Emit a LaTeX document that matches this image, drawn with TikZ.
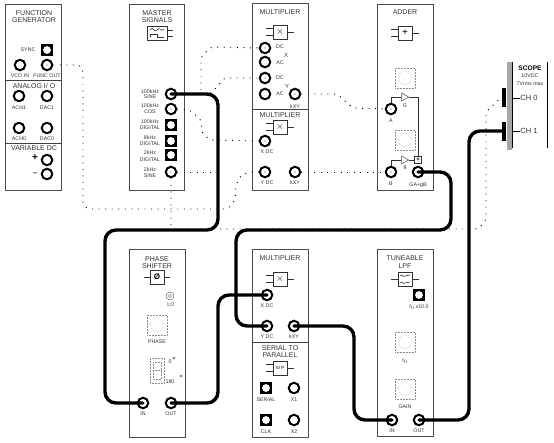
\documentclass[tikz,border=0pt]{standalone}
\usepackage{fontspec}
\usetikzlibrary{shapes.geometric}
\setmainfont{Liberation Sans}
\begin{document}
\begin{tikzpicture}[x=1pt,y=-1pt,
  panel/.style={draw=black!70,line width=0.7pt},
  divider/.style={draw=black!75,line width=0.7pt},
  sock/.style={circle,draw=black,line width=2pt,fill=white,minimum size=10.5pt,inner sep=0pt},
  bnc/.style={sock,path picture={\fill[black!70] (path picture bounding box.center) circle (0.6pt);}},
  sqsock/.style={rectangle,fill=black,minimum size=12.5pt,inner sep=0pt,path picture={\fill[white] (path picture bounding box.center) circle (3.9pt);}},
  wire/.style={line width=3.4pt,rounded corners=11pt,line cap=round},
  dots/.style={line width=0.95pt,dash pattern=on 0.95pt off 5.6pt,rounded corners=3pt},
  sym/.style={rectangle,draw=black!80,line width=0.6pt,fill=white,minimum size=14pt,inner sep=0pt,font=\fontsize{10}{10}\selectfont},
  stub/.style={draw=black!80,line width=0.6pt},
  knob/.style={rectangle,draw=black!45,densely dotted,line width=0.5pt,minimum size=20pt,inner sep=0pt,
    path picture={\draw[black!45,densely dotted,line width=0.4pt] (path picture bounding box.center) circle (6.5pt);}},
  ampl/.style={isosceles triangle,isosceles triangle apex angle=60,draw=black!70,line width=0.5pt,fill=white,minimum height=7pt,minimum width=7pt,inner sep=0pt},
  ttl/.style={font=\fontsize{7}{7}\selectfont,text=black!80,inner sep=0pt},
  lab/.style={font=\fontsize{5.3}{5.3}\selectfont,text=black!80,inner sep=0pt},
  bar/.style={rectangle,fill=black,minimum width=4.5pt,minimum height=19pt,inner sep=0pt}]
\useasboundingbox (0,0) rectangle (554,442);
% panels
\draw[panel] (5.5,4) rectangle (61,190);
\draw[divider] (5.5,80) -- (61,80);
\draw[divider] (5.5,143) -- (61,143);
\draw[panel] (129,4) rectangle (184,190);
\draw[panel] (252,3.5) rectangle (308,190);
\draw[divider] (252,109) -- (308,109);
\draw[panel] (377,4) rectangle (433,190);
\draw[panel] (129,249) rectangle (185,437);
\draw[panel] (252,249) rectangle (308,437);
\draw[divider] (252,342) -- (308,342);
\draw[panel] (377,249) rectangle (433,436);
% scope
\fill[black!35] (507,62) rectangle (511.5,150);
\draw[line width=0.8pt] (512,62) -- (512,148);
\draw[line width=0.8pt] (547,62) -- (547,148);
% titles
\foreach \x/\y/\t [count=\i] in {
 34/13/FUNCTION,34/20/GENERATOR,34/86/{ANALOG I/ O},34/148/VARIABLE DC,
 157/13/MASTER,157/20/SIGNALS,280/12/MULTIPLIER,280/115/MULTIPLIER,405/12/ADDER,
 157/259/PHASE,157/266/SHIFTER,280/258/MULTIPLIER,280/348/SERIAL TO,280/355/PARALLEL,
 405/258/TUNEABLE,405/266/LPF}
 \node[ttl] (ttl\i) at (\x,\y) {\t};
% small labels
\foreach \x/\y/\t [count=\i] in {
 28/50/SYNC,20/76/VCO IN,47/76/{FUNC OUT},19/108/ACH1,47/108/DAC1,19/139/ACH0,47/139/DAC0,
 150/92/100kHz,150/97/SINE,150/106/100kHz,150/112/COS,150/122/100kHz,150/128/DIGITAL,
 150/138/8kHz,150/144/DIGITAL,150/153/2kHz,150/160/DIGITAL,150/170/2kHz,150/176/SINE,
 280/47/DC,280/63/AC,280/78/DC,280/94/AC,295/107/kXY,267/152/X DC,267/183/Y DC,295/183/kXY,
 405/106/G,391/121/A,405/168/g,391/184/B,418/185/GA+gB,
 171/305/LO,157/342/PHASE,143/414/IN,171/414/OUT,
 267/306/X DC,267/337/Y DC,294/337/kXY,266/400/SERIAL,294/400/X1,266/432/CLK,294/432/X2,
 419/307/{f$_0$\,x10.0},405/361/{f$_0$},405/407/GAIN,392/431/IN,419/431/OUT,
 530/76/10VDC,530/84/{7Vrms max},170/362/{0},170/382/{180}}
 \node[lab] (lab\i) at (\x,\y) {\t};
\node[lab] (muX) at (286,55) {\fontsize{6}{6}\selectfont X};
\node[lab] (muY) at (287,86) {\fontsize{6}{6}\selectfont Y};
\node[ttl,font=\fontsize{10}{10}\selectfont\bfseries,text=black] (plus) at (35,158) {+};
\node[ttl,font=\fontsize{8}{8}\selectfont\bfseries] (minus) at (35,174) {--};
\node[ttl,font=\fontsize{6.6}{6.6}\selectfont\bfseries,text=black] (scopet) at (530,68) {SCOPE};
\node[ttl,font=\fontsize{7.5}{7.5}\selectfont] (ch0t) at (529,98) {CH 0};
\node[ttl,font=\fontsize{7.5}{7.5}\selectfont] (ch1t) at (529,131) {CH 1};
\draw[line width=0.6pt] (512,98) -- (ch0t.west);
\draw[line width=0.6pt] (512,131) -- (ch1t.west);
% block symbols
\node[sym,minimum width=20pt] (msS) at (157,33) {};
\draw[stub] (msS.east) ++(0,-3) -- ++(6,0);
\draw[stub] (msS.east) ++(0,3) -- ++(6,0);
\draw[stub] (150,30) .. controls (153,25) and (154,34) .. (157,30) .. controls (160,26) and (161,33) .. (164,29);
\draw[stub] (150,37) -- (150,34) -- (157,34) -- (157,37) -- (164,37);
\foreach \n/\x/\y/\t in {mA/280/32/$\times$,mB/280/127/$\times$,adS/405/33/+,mC/280/279/$\times$,spS/280/368/{\fontsize{4.5}{4.5}\selectfont S/ P}}{
 \node[sym] (\n) at (\x,\y) {\t};
 \draw[stub] (\n.west) ++(0,-3.5) -- ++(-7,0);
 \draw[stub] (\n.west) ++(0,3.5) -- ++(-7,0);
 \draw[stub] (\n.east) -- ++(7,0);
}
\node[sym] (lpS) at (405,279) {};
\draw[stub] (lpS.west) -- ++(-7,0);
\draw[stub] (lpS.east) -- ++(7,0);
\draw[stub] (400,276) .. controls (402,273) and (403,278) .. (405,276) .. controls (407,274) and (408,277) .. (410,275);
\draw[stub] (400,283) .. controls (402,280) and (403,285) .. (405,283) .. controls (407,281) and (408,284) .. (410,282);
\node[sym] (psS) at (157,277) {\fontsize{8}{8}\selectfont\bfseries Ø};
\draw[stub] (psS.west) -- ++(-6,0);
\draw[stub] (psS.east) -- ++(6,0);
% knobs
\node[knob] (k1) at (405,78) {};
\node[knob] (k2) at (405,140) {};
\node[knob] (k3) at (157,325) {};
\node[knob] (k4) at (405,342) {};
\node[knob] (k5) at (405,389) {};
% phase display
\node[rectangle,draw=black!45,densely dotted,line width=0.5pt,minimum width=14pt,minimum height=25pt,inner sep=0pt] (disp) at (157,370.5) {};
\draw[black!45,densely dotted,line width=0.5pt] (153,362) rectangle (161,379) (153,370.5) -- (161,370.5);
\node[circle,draw=black!60,line width=0.4pt,minimum size=2pt,inner sep=0pt] (p0) at (174,358) {};
\node[circle,draw=black!60,line width=0.4pt,minimum size=2pt,inner sep=0pt] (p1) at (181,376) {};
\node[circle,draw=black!60,line width=0.5pt,minimum size=8pt,inner sep=0pt,path picture={\draw[black!60,line width=0.4pt] (path picture bounding box.center) circle (1.6pt);}] (lo) at (170,296) {};
% sockets
\node[sqsock] (fgsync) at (47,50) {};
\node[sock] (fgvco) at (20,65) {};
\node[bnc] (fgout) at (47,65) {};
\node[sock] (ach1) at (19,96) {};
\node[sock] (dac1) at (47,96) {};
\node[sock] (ach0) at (19,128) {};
\node[sock] (dac0) at (47,128) {};
\node[sock] (vp) at (47,160) {};
\node[sock] (vm) at (47,174) {};
\node[bnc] (mss) at (171,94) {};
\node[bnc] (msc) at (171,109) {};
\node[sqsock] (msd1) at (171,125) {};
\node[sqsock] (msd2) at (171,141) {};
\node[sqsock] (msd3) at (171,155) {};
\node[bnc] (ms2s) at (171,172) {};
\node[bnc] (m1xd) at (265,48) {};
\node[sock] (m1xa) at (265,62) {};
\node[bnc] (m1yd) at (265,78) {};
\node[sock] (m1ya) at (265,94) {};
\node[bnc] (m1k) at (295,94) {};
\node[bnc] (m2x) at (265,141) {};
\node[bnc] (m2y) at (265,172) {};
\node[bnc] (m2k) at (295,172) {};
\node[bnc] (adA) at (391,109) {};
\node[bnc] (adB) at (391,172) {};
\node[bnc] (adO) at (418,172) {};
\node[bar] (ch0) at (504,97) {};
\node[bar] (ch1) at (504,131) {};
\node[bnc] (psi) at (143,403) {};
\node[bnc] (pso) at (171,403) {};
\node[bnc] (m3x) at (267,295) {};
\node[bnc] (m3y) at (267,326) {};
\node[bnc] (m3k) at (294,326) {};
\node[sqsock] (ser) at (266,388) {};
\node[sock] (x1) at (294,388) {};
\node[sqsock] (clk) at (266,420) {};
\node[sock] (x2) at (294,420) {};
\node[sqsock] (lpf0) at (419,295) {};
\node[bnc] (lpi) at (392,420) {};
\node[bnc] (lpo) at (419,420) {};
% adder internals
\node[sym,minimum size=7pt,font=\fontsize{6}{6}\selectfont\bfseries] (adP) at (418,160) {+};
\node[ampl] (ampG) at (404,97) {};
\node[ampl] (ampB) at (404,160) {};
\draw[stub] (adA.north) |- (ampG.west);
\draw[stub] (ampG.east) -| (adP.north);
\draw[stub] (adB.north) |- (ampB.west);
\draw[stub] (ampB.east) -- (adP.west);
% dotted patch leads
\draw[dots] (fgout.east) -- (80,65) -- (83,70) -- (83,205) -- (88,209) -- (228,209) -- (235,200) -- (236,185) -- (241,175) -- (250,172) -- (m2y.west);
\draw[dots] (mss.center) -- (201,94) -- (201,57) -- (211,47) -- (m1xd.west);
\draw[dots] (mss.center) -- (210,94) -- (218,86) -- (224,78) -- (m1yd.west);
\draw[dots] (msc.east) -- (190,110) -- (201,120) -- (202,133) -- (210,140) -- (m2x.west);
\draw[dots] (ms2s.east) -- (218,172);
\draw[dots] (ms2s.south) -- (171,229) -- (478,229) -- (486,220) -- (486,112) -- (ch0.west);
\draw[dots] (m1k.east) -- (337,94) -- (353,108) -- (adA.west);
\draw[dots] (m2k.east) -- (adB.west);
% thick leads
\draw[wire] (mss.center) -- (218,94) -- (218,230) -- (105,230) -- (105,403) -- (psi.center);
\draw[wire] (pso.center) -- (218,403) -- (218,295) -- (m3x.center);
\draw[wire] (adO.center) -- (451,172) -- (451,230) -- (236,230) -- (236,326) -- (m3y.center);
\draw[wire] (m3k.center) -- (354,326) -- (354,420) -- (lpi.center);
\draw[wire] (lpo.center) -- (469,420) -- (469,131) -- (ch1.center);
\end{tikzpicture}
\end{document}
